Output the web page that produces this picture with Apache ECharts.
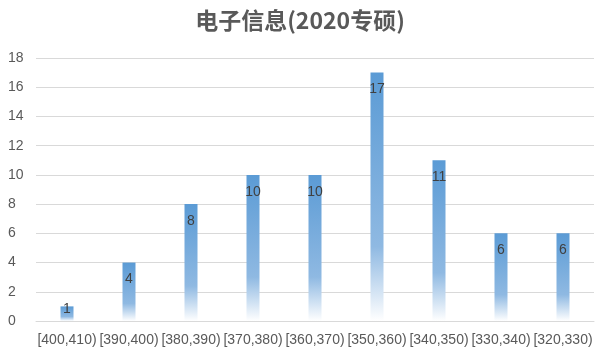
<!DOCTYPE html>
<html><head><meta charset="utf-8">
<script src="https://cdn.jsdelivr.net/npm/echarts@6/dist/echarts.min.js"></script>
<style>html,body{margin:0;padding:0;background:#fff}#c{width:600px;height:356px}</style>
</head><body><div id="c"></div>
<script>
const titleText = '电子信息(2020专硕)';
const categories = ['[400,410)','[390,400)','[380,390)','[370,380)','[360,370)','[350,360)','[340,350)','[330,340)','[320,330)'];
const values = [1, 4, 8, 10, 10, 17, 11, 6, 6];
const yTicks = {min: 0, max: 18, interval: 2};

const chart = echarts.init(document.getElementById('c'));
const grad = new echarts.graphic.LinearGradient(0, 0, 0, 1, [
  {offset: 0, color: '#5b9bd5'},
  {offset: 0.7, color: '#8fb9e2'},
  {offset: 1, color: '#ffffff'}
]);
chart.setOption({
  animation: false,
  title: {text: titleText, left: 'center', top: 4,
    textStyle: {fontFamily: 'Noto Sans CJK SC', fontSize: 23, fontWeight: 'bold', color: '#595959'}},
  grid: {left: 36, right: 6, top: 58, bottom: 35},
  xAxis: {type: 'category', data: categories,
    axisLine: {lineStyle: {color: '#d9d9d9'}}, axisTick: {show: false},
    axisLabel: {color: '#595959', fontSize: 14, fontFamily: 'Liberation Sans', interval: 0, margin: 12}},
  yAxis: {type: 'value', min: yTicks.min, max: yTicks.max, interval: yTicks.interval,
    axisLine: {show: false}, axisTick: {show: false},
    splitLine: {lineStyle: {color: '#d9d9d9'}},
    axisLabel: {color: '#595959', fontSize: 14, fontFamily: 'Liberation Sans', margin: 28, align: 'left'}},
  series: [{type: 'bar', data: values.map((v, i) => i === 0 ? {value: v, label: {position: 'top', distance: -10}} : v),
    barWidth: 13,
    itemStyle: {color: grad},
    label: {show: true, position: 'insideTop', distance: 10, color: '#404040', fontSize: 14, fontFamily: 'Liberation Sans'}}]
});
</script></body></html>
